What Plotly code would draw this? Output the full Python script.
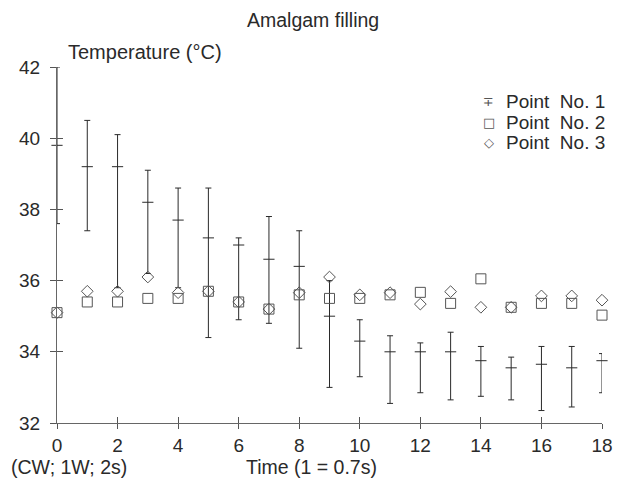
"""Amalgam filling - temperature at three measuring points"""

import plotly.graph_objects as go

# time steps (1 = 0.7 s)
time = list(range(19))

# Point No. 1: mean with upper / lower extent of the bar
p1_mean = [39.8, 39.2, 39.2, 38.2, 37.7, 37.2, 37.0, 36.6, 36.4, 35.0,
           34.3, 34.0, 34.0, 34.0, 33.75, 33.55, 33.65, 33.55, 33.75]
p1_upper = [42.0, 40.5, 40.1, 39.1, 38.6, 38.6, 37.2, 37.8, 37.4, 36.0,
            34.9, 34.45, 34.25, 34.55, 34.15, 33.85, 34.15, 34.15, 33.95]
p1_lower = [37.6, 37.4, 35.8, 36.2, 35.8, 34.4, 34.9, 34.8, 34.1, 33.0,
            33.3, 32.55, 32.85, 32.65, 32.75, 32.65, 32.35, 32.45, 32.85]

# Point No. 2 and No. 3
p2 = [35.1, 35.4, 35.4, 35.5, 35.5, 35.7, 35.4, 35.2, 35.6, 35.5,
      35.5, 35.6, 35.67, 35.36, 36.05, 35.25, 35.36, 35.36, 35.03]
p3 = [35.1, 35.7, 35.7, 36.1, 35.66, 35.7, 35.4, 35.2, 35.66, 36.1,
      35.6, 35.66, 35.34, 35.69, 35.25, 35.25, 35.57, 35.57, 35.45]

series_names = ['Point&nbsp;&nbsp;No. 1', 'Point&nbsp;&nbsp;No. 2', 'Point&nbsp;&nbsp;No. 3']
series_glyphs = ['∓', '□', '◇']

x_ticks = [0, 2, 4, 6, 8, 10, 12, 14, 16, 18]
y_ticks = [32, 34, 36, 38, 40, 42]

ink = '#2a2a2a'
grey = '#555555'
font = 'Liberation Sans, Arial, sans-serif'

err_plus = [u - m for u, m in zip(p1_upper, p1_mean)]
err_minus = [m - l for m, l in zip(p1_mean, p1_lower)]

fig = go.Figure()

fig.add_trace(go.Scatter(
    x=time, y=p1_mean, mode='markers', name='Point No. 1',
    marker=dict(symbol='line-ew', size=8, line=dict(width=1, color=ink), color=ink),
    error_y=dict(type='data', symmetric=False, array=err_plus, arrayminus=err_minus,
                 color=ink, thickness=1, width=3),
    cliponaxis=False,
))
fig.add_trace(go.Scatter(
    x=time, y=p2, mode='markers', name='Point No. 2',
    marker=dict(symbol='square-open', size=10, line=dict(width=1), color=grey),
    cliponaxis=False,
))
fig.add_trace(go.Scatter(
    x=time, y=p3, mode='markers', name='Point No. 3',
    marker=dict(symbol='diamond-open', size=9, line=dict(width=1), color=grey),
    cliponaxis=False,
))

axis_common = dict(showgrid=False, zeroline=False, showline=True, linecolor='#666666',
                   linewidth=1, tickcolor='#555555', tickwidth=1, automargin=False,
                   tickfont=dict(size=19, color=ink, family=font))

fig.update_layout(
    width=605, height=489,
    margin=dict(l=49, r=11, t=59, b=74),
    paper_bgcolor='white', plot_bgcolor='white',
    font=dict(family=font, color=ink),
    showlegend=False,
    xaxis=dict(range=[0, 18], tickvals=x_ticks, ticks='outside', ticklen=5, **axis_common),
    yaxis=dict(range=[32, 42], tickvals=y_ticks, ticks='outside', ticklen=6,
               ticklabelstandoff=6, **axis_common),
    # overlay axes only to draw the inside half of the crossing ticks
    xaxis2=dict(range=[0, 18], tickvals=x_ticks, ticks='inside', ticklen=6,
                showticklabels=False, overlaying='x', showgrid=False, zeroline=False,
                showline=False, tickcolor='#555555', automargin=False),
    yaxis2=dict(range=[32, 42], tickvals=y_ticks, ticks='inside', ticklen=6,
                showticklabels=False, overlaying='y', showgrid=False, zeroline=False,
                showline=False, tickcolor='#555555', automargin=False),
)

# invisible trace to activate the overlay axes
fig.add_trace(go.Scatter(x=[0, 18], y=[32, 42], xaxis='x2', yaxis='y2', mode='none',
                         showlegend=False, hoverinfo='skip'))

fig.add_annotation(text='Amalgam filling', xref='paper', yref='paper', x=0.47, y=1.132,
                   showarrow=False, font=dict(size=19.5), xanchor='center', yanchor='middle')
fig.add_annotation(text='Temperature (°C)', xref='paper', yref='paper', x=0.017, y=1.042,
                   showarrow=False, font=dict(size=20), xanchor='left', yanchor='middle')
fig.add_annotation(text='(CW; 1W; 2s)', xref='paper', yref='paper', x=-0.088, y=-0.124,
                   showarrow=False, font=dict(size=19.5), xanchor='left', yanchor='middle')
fig.add_annotation(text='Time (1 = 0.7s)', xref='paper', yref='paper', x=0.344, y=-0.124,
                   showarrow=False, font=dict(size=19.5), xanchor='left', yanchor='middle')

# hand-made legend, rows 20 px apart as in the original
for i, (glyph, name) in enumerate(zip(series_glyphs, series_names)):
    y_row = 1 - (35 + 20 * i) / 356
    fig.add_annotation(text=glyph, xref='paper', yref='paper', x=0.792, y=y_row,
                       showarrow=False, xanchor='center', yanchor='middle',
                       font=dict(size=13, color=grey, family='DejaVu Sans'))
    fig.add_annotation(text=name, xref='paper', yref='paper', x=0.820, y=y_row,
                       showarrow=False, xanchor='left', yanchor='middle',
                       font=dict(size=19, color=ink))

fig.write_html("out.html")
